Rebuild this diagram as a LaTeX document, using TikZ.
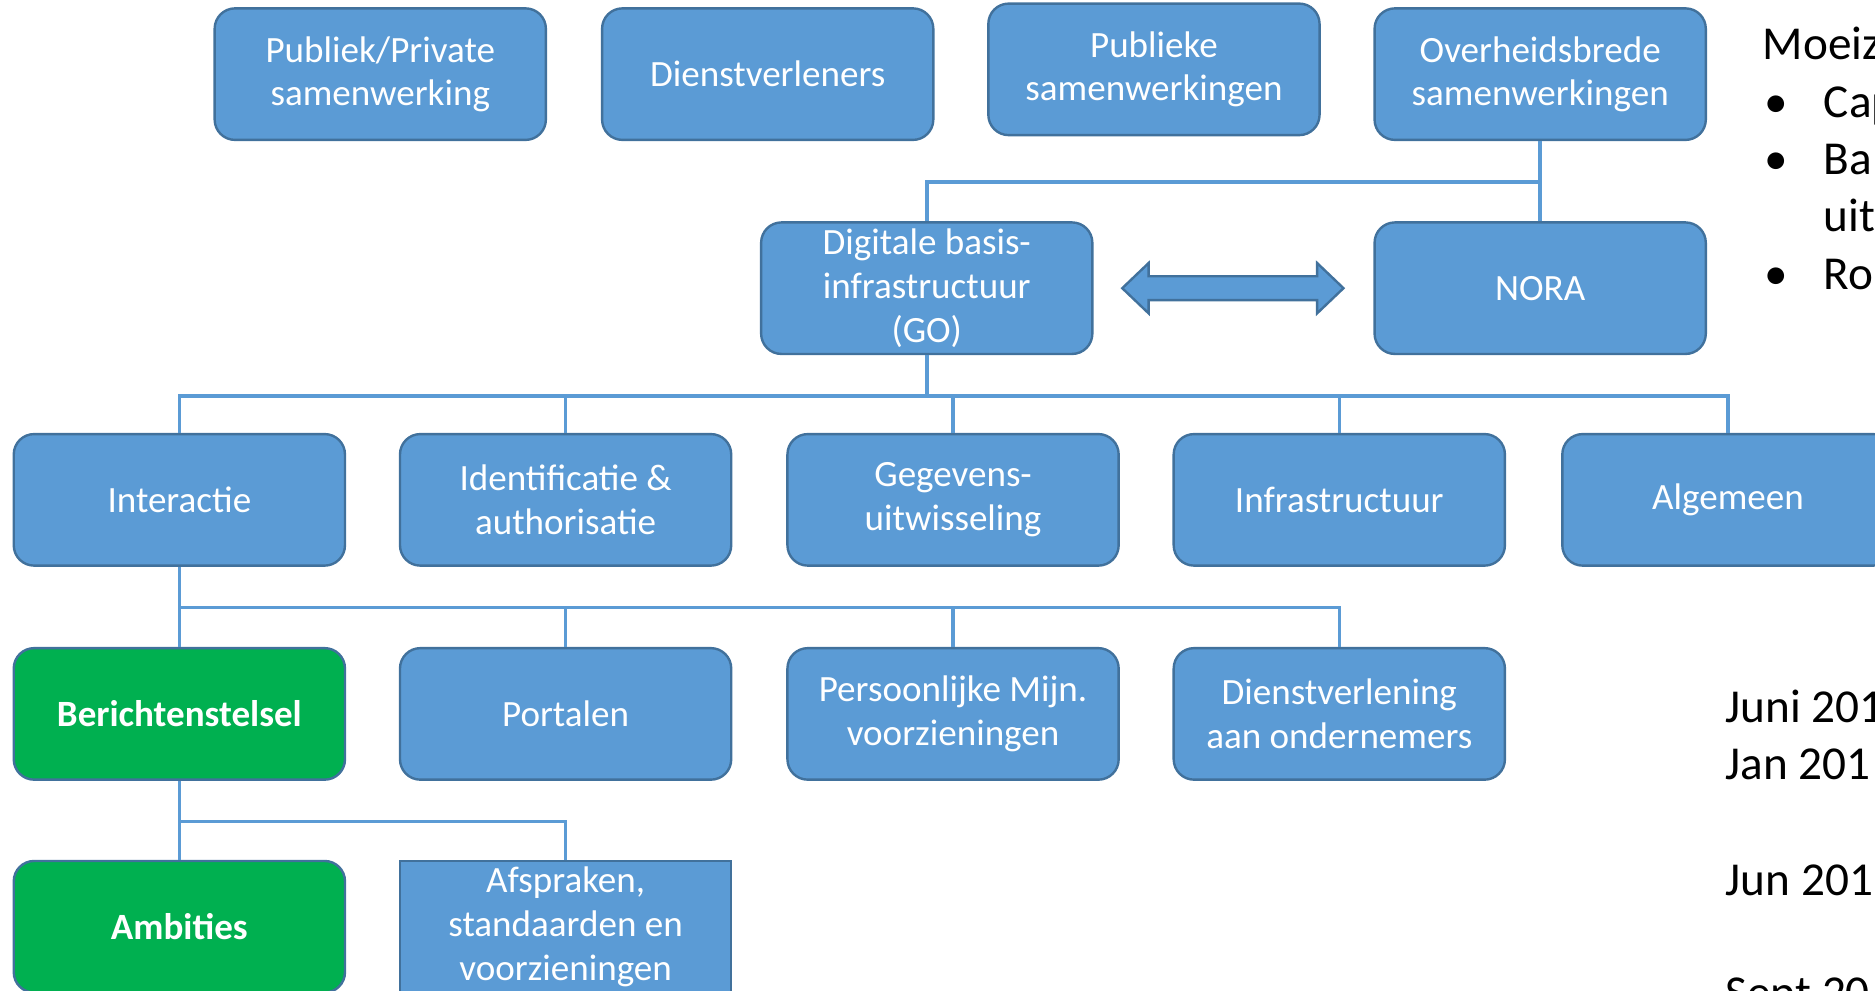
\documentclass[tikz,border=0pt]{standalone}
\usepackage{fontspec}
\setmainfont{Carlito}
\usetikzlibrary{calc}

\definecolor{boxblue}{HTML}{5B9BD5}
\definecolor{boxedge}{HTML}{41719C}
\definecolor{boxgreen}{HTML}{00B050}

\begin{document}
\begin{tikzpicture}[x=1pt,y=-1pt,
    box/.style={draw=boxedge,line width=2pt,fill=boxblue,rounded corners=17pt,
      minimum width=277pt,minimum height=110pt,inner sep=0pt,align=center,
      text=white,font=\fontsize{31}{36.5}\selectfont},
    greenbox/.style={box,fill=boxgreen,font=\fontsize{31}{36.5}\selectfont\bfseries},
    link/.style={draw=boxblue,line width=3pt},
    side/.style={anchor=base west,inner sep=0pt,font=\fontsize{39.5}{48}\selectfont}]
    \useasboundingbox (0,0) rectangle (1568,828);
    \clip (0,0) rectangle (1568,828);
    % top row
    \node[box] (pp) at (318,62) {Publiek/Private\\samenwerking};
    \node[box] (dv) at (642,62) {Dienstverleners};
    \node[box] (ps) at (965,58) {Publieke\\samenwerkingen};
    \node[box] (os) at (1288,62) {Overheidsbrede\\samenwerkingen};
    % second row
    \node[box,inner ysep=-20pt] (dig) at (775,241) {Digitale basis-\\infrastructuur\\(GO)};
    \node[box] (nora) at (1288,241) {NORA};
    \coordinate (al) at ($(dig.east)+(24,0)$);
    \coordinate (ar) at ($(nora.west)+(-25,0)$);
    \draw[boxedge,line width=2pt,fill=boxblue] (al) -- ($(al)+(22,-21)$)
      -- ($(al)+(22,-10)$) -- ($(ar)+(-22,-10)$) -- ($(ar)+(-22,-21)$)
      -- (ar) -- ($(ar)+(-22,21)$) -- ($(ar)+(-22,10)$)
      -- ($(al)+(22,10)$) -- ($(al)+(22,21)$) -- cycle;
    % third row
    \node[box] (int) at (150,418) {Interactie};
    \node[box] (ida) at (473,418) {Identificatie \&\\authorisatie};
    \node[box] (geg) at (797,418) {Gegevens-\\uitwisseling};
    \node[box] (inf) at (1120,418) {Infrastructuur};
    \node[box] (alg) at (1445,418) {Algemeen};
    % fourth row
    \node[greenbox] (ber) at (150,597) {Berichtenstelsel};
    \node[box] (por) at (473,597) {Portalen};
    \node[box] (pmv) at (797,597) {Persoonlijke Mijn.\\voorzieningen};
    \node[box] (dao) at (1120,597) {Dienstverlening\\aan ondernemers};
    % fifth row
    \node[greenbox] (amb) at (150,775) {Ambities};
    \node[box,sharp corners,inner ysep=-20pt] (afs) at (473,775) {Afspraken,\\standaarden en\\voorzieningen};
    % connectors
    \draw[link] (os.south) -- ++(0,34) -| (dig.north);
    \draw[link] (os.south) -- ++(0,34) -| (nora.north);
    \foreach \n in {int,ida,geg,inf,alg}
      \draw[link] (dig.south) -- ++(0,34) -| (\n.north);
    \foreach \n in {ber,por,pmv,dao}
      \draw[link] (int.south) -- ++(0,34) -| (\n.north);
    \foreach \n in {amb,afs}
      \draw[link] (ber.south) -- ++(0,34) -| (\n.north);
    % side text
    \node[side] (moe) at (1474,50) {Moeiz};
    \node[side] (b1) at (1475,98) {\textbullet};
    \node[side] (cap) at (1525,98) {Cap};
    \node[side] (b2) at (1475,146) {\textbullet};
    \node[side] (bal) at (1525,146) {Bal};
    \node[side] (uit) at (1525,194) {uit};
    \node[side] (b3) at (1475,242) {\textbullet};
    \node[side] (rol) at (1525,242) {Rol};
    \node[side] (d1) at (1443,604) {Juni 201};
    \node[side] (d2) at (1443,652) {Jan 201};
    \node[side] (d3) at (1443,749) {Jun 201};
    \node[side] (d4) at (1443,843) {Sept 20};
\end{tikzpicture}
\end{document}
